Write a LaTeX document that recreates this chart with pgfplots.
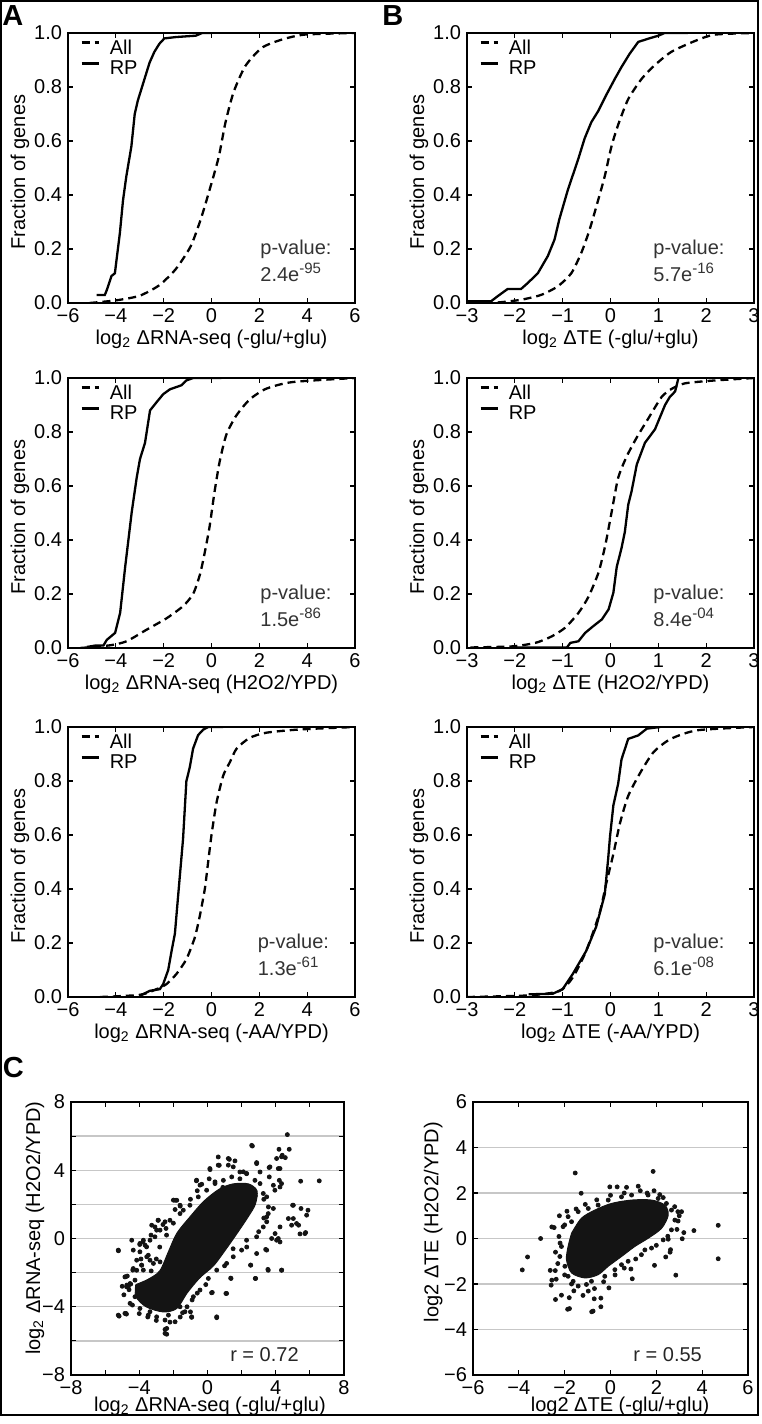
\documentclass[border=0pt]{standalone}
\usepackage{fontspec}
\setmainfont{Liberation Sans}
\usepackage{pgfplots}
\pgfplotsset{compat=1.18}

\newcommand{\fs}{\fontsize{10}{12}\selectfont}
\newcommand{\sexp}[1]{\raisebox{4.3pt}{\fontsize{7.5}{8}\selectfont #1}}
\tikzset{pv/.style={font=\fs, text=black!80, inner sep=0pt, anchor=base west}}
\pgfplotsset{
  base/.style={
    scale only axis, anchor=north west,
    tick align=inside, major tick length=2.5pt,
    axis line style={line width=0.7pt},
    every tick/.style={black, line width=0.6pt},
    tick label style={font=\fs, inner sep=0pt},
    label style={font=\fs, inner sep=0pt},
    xticklabel style={yshift=-2.5pt},
    yticklabel style={xshift=-2.8pt},
  },
  cdf/.style={
    base, width=143.5pt, height=135pt,
    ymin=0, ymax=1, ytick={0,0.2,0.4,0.6,0.8,1},
    yticklabels={0.0,0.2,0.4,0.6,0.8,1.0},
    ylabel={Fraction of genes},
    ylabel style={at={(axis description cs:-0.167,0.485)}, anchor=center},
    xlabel style={at={(axis description cs:0.5,-0.098)}, anchor=north},
    legend style={at={(axis description cs:0.042,0.976)}, anchor=north west,
      draw=none, fill=none, inner sep=0pt, row sep=1.8pt, column sep=5pt,
      font=\fs, nodes={inner sep=0pt}},
    legend cell align=left,
    legend image code/.code={\draw[#1] (0pt,3pt) -- (8.5pt,3pt);},
  },
  acol/.style={xmin=-6, xmax=6, xtick={-6,-4,-2,0,2,4,6},
    xticklabels={−6,−4,−2,0,2,4,6}},
  bcol/.style={xmin=-3, xmax=3, xtick={-3,-2,-1,0,1,2,3},
    xticklabels={−3,−2,−1,0,1,2,3}},
  allp/.style={black, line width=1.15pt, dash pattern=on 4pt off 2.5pt, smooth, tension=0.4},
  rpp/.style={black, line width=1.15pt},
  sc/.style={base, ymajorgrids, grid style={black!22, line width=0.7pt}},
  dots/.style={only marks, mark=*, mark size=1pt, black!92},
  blob/.style={fill=black!92, draw=black!92, line width=0.5pt, smooth, tension=0.5},
}
\newcommand{\pval}[2]{%
  \node[pv] at (axis description cs:#1,0.181) {p-value:};
  \node[pv] at (axis description cs:#1,0.078) {#2};}

\begin{document}
\begin{tikzpicture}
\useasboundingbox (0pt,0pt) rectangle (380.5pt,-712pt);

% ---------- A1 ----------
\begin{axis}[cdf, acol, at={(34pt,-16.5pt)},
  xlabel={log\textsubscript{2} ΔRNA-seq (-glu/+glu)}]
\addplot[allp] coordinates {(-5.1,0) (-3.97,0.01) (-3.0,0.027) (-2.18,0.066)
  (-1.49,0.126) (-0.87,0.21) (-0.45,0.31) (-0.11,0.41) (0.30,0.54) (0.58,0.667)
  (0.92,0.78) (1.41,0.877) (2.1,0.945) (2.92,0.975) (3.89,0.994) (6,1)};
\addlegendentry{All}
\addplot[rpp] coordinates {(-4.8,0.03) (-4.46,0.03) (-4.39,0.045) (-4.18,0.10)
  (-4.04,0.11) (-3.83,0.26) (-3.70,0.38) (-3.56,0.47) (-3.35,0.58) (-3.21,0.70)
  (-3.08,0.75) (-2.80,0.83) (-2.59,0.89) (-2.39,0.93) (-2.18,0.96) (-1.97,0.98)
  (-1.49,0.985) (-0.66,0.99) (-0.39,1.0) (0,1)};
\addlegendentry{RP}
\pval{0.669}{2.4e\sexp{-95}}
\end{axis}

% ---------- B1 ----------
\begin{axis}[cdf, bcol, at={(233.5pt,-16.5pt)},
  xlabel={log\textsubscript{2} ΔTE (-glu/+glu)}]
\addplot[allp] coordinates {(-2.9,0) (-2.36,0.002) (-1.87,0.012) (-1.45,0.03)
  (-1.10,0.062) (-0.82,0.11) (-0.61,0.186) (-0.44,0.27) (-0.26,0.38) (-0.12,0.47)
  (0.02,0.58) (0.16,0.66) (0.37,0.755) (0.65,0.83) (0.92,0.88) (1.27,0.93)
  (1.76,0.97) (2.18,0.994) (3,1)};
\addlegendentry{All}
\addplot[rpp] coordinates {(-3,0.006) (-2.50,0.006) (-2.36,0.025) (-2.15,0.052)
  (-1.87,0.052) (-1.73,0.074) (-1.52,0.11) (-1.31,0.174) (-1.17,0.235)
  (-1.07,0.31) (-0.89,0.42) (-0.68,0.53) (-0.54,0.61) (-0.40,0.67) (-0.26,0.71)
  (-0.09,0.77) (0.09,0.83) (0.23,0.874) (0.40,0.923) (0.58,0.967) (0.79,0.979)
  (1.0,0.99) (1.13,1.0) (1.62,1)};
\addlegendentry{RP}
\pval{0.648}{5.7e\sexp{-16}}
\end{axis}

% ---------- A2 ----------
\begin{axis}[cdf, acol, at={(34pt,-189pt)},
  xlabel={log\textsubscript{2} ΔRNA-seq (H2O2/YPD)}]
\addplot[allp] coordinates {(-5.49,0) (-4.24,0.01) (-3.55,0.025) (-2.71,0.068)
  (-1.88,0.11) (-1.19,0.155) (-0.77,0.2) (-0.49,0.27) (-0.29,0.35) (-0.08,0.45)
  (0.13,0.58) (0.34,0.69) (0.62,0.79) (1.03,0.86) (1.59,0.92) (2.28,0.96)
  (3.39,0.985) (6,1)};
\addlegendentry{All}
\addplot[rpp] coordinates {(-5.21,0.004) (-4.86,0.009) (-4.52,0.009) (-4.38,0.03)
  (-4.03,0.056) (-3.82,0.13) (-3.61,0.30) (-3.34,0.50) (-3.13,0.63) (-2.99,0.70)
  (-2.78,0.76) (-2.57,0.88) (-2.30,0.91) (-2.02,0.94) (-1.74,0.958) (-1.26,0.973)
  (-1.05,0.991) (-0.77,1.0) (0.41,1)};
\addlegendentry{RP}
\pval{0.669}{1.5e\sexp{-86}}
\end{axis}

% ---------- B2 ----------
\begin{axis}[cdf, bcol, at={(233.5pt,-189pt)},
  xlabel={log\textsubscript{2} ΔTE (H2O2/YPD)}]
\addplot[allp] coordinates {(-2.93,0.002) (-2.06,0.006) (-1.57,0.019) (-1.23,0.043)
  (-0.95,0.075) (-0.67,0.13) (-0.46,0.19) (-0.25,0.28) (-0.11,0.38) (0.02,0.50)
  (0.16,0.63) (0.34,0.71) (0.55,0.78) (0.79,0.85) (1.07,0.93) (1.28,0.96)
  (1.55,0.98) (2.11,0.99) (3,1)};
\addlegendentry{All}
\addplot[rpp] coordinates {(-2.06,0.002) (-0.91,0.002) (-0.84,0.019) (-0.67,0.025)
  (-0.53,0.056) (-0.36,0.081) (-0.18,0.106) (-0.04,0.143) (0.06,0.205) (0.13,0.30)
  (0.23,0.37) (0.30,0.43) (0.37,0.53) (0.44,0.58) (0.55,0.68) (0.72,0.76)
  (0.93,0.81) (1.14,0.90) (1.24,0.93) (1.35,0.95) (1.42,1.0)};
\addlegendentry{RP}
\pval{0.648}{8.4e\sexp{-04}}
\end{axis}

% ---------- A3 ----------
\begin{axis}[cdf, acol, at={(34pt,-363.5pt)},
  xlabel={log\textsubscript{2} ΔRNA-seq (-AA/YPD)}]
\addplot[allp] coordinates {(-4.67,0) (-3.0,0.008) (-2.30,0.029) (-1.88,0.048)
  (-1.47,0.085) (-1.05,0.14) (-0.70,0.22) (-0.49,0.30) (-0.28,0.40) (-0.14,0.50)
  (0.0,0.60) (0.21,0.72) (0.49,0.82) (0.77,0.87) (1.05,0.92) (1.60,0.96)
  (2.30,0.979) (3.70,0.991) (6,1)};
\addlegendentry{All}
\addplot[rpp] coordinates {(-3.0,0.004) (-2.58,0.023) (-2.16,0.029) (-2.02,0.048)
  (-1.81,0.10) (-1.67,0.17) (-1.53,0.235) (-1.40,0.37) (-1.19,0.585) (-1.05,0.80)
  (-0.91,0.85) (-0.77,0.92) (-0.56,0.97) (-0.35,0.99) (-0.14,1.0) (0.49,1)};
\addlegendentry{RP}
\pval{0.66}{1.3e\sexp{-61}}
\end{axis}

% ---------- B3 ----------
\begin{axis}[cdf, bcol, at={(233.5pt,-363.5pt)},
  xlabel={log\textsubscript{2} ΔTE (-AA/YPD)}]
\addplot[allp] coordinates {(-3,0) (-1.71,0.006) (-1.07,0.022) (-0.79,0.072)
  (-0.51,0.17) (-0.23,0.31) (-0.09,0.42) (0.06,0.53) (0.20,0.645) (0.37,0.745)
  (0.62,0.83) (0.90,0.907) (1.26,0.956) (1.82,0.988) (3,1)};
\addlegendentry{All}
\addplot[rpp] coordinates {(-1.71,0.01) (-1.21,0.012) (-1.0,0.029) (-0.79,0.085)
  (-0.51,0.17) (-0.30,0.26) (-0.12,0.38) (-0.05,0.51) (-0.01,0.595) (0.06,0.71)
  (0.16,0.79) (0.23,0.88) (0.37,0.956) (0.58,0.969) (0.76,0.994) (1.04,1)};
\addlegendentry{RP}
\pval{0.648}{6.1e\sexp{-08}}
\end{axis}

% ---------- C1 ----------
\begin{axis}[sc, at={(35.5pt,-551pt)}, width=136.5pt, height=136.5pt,
  xmin=-8, xmax=8, ymin=-8, ymax=8,
  xtick={-8,-6,-4,-2,0,2,4,6,8}, xticklabels={−8,,−4,,0,,4,,8},
  ytick={-8,-6,-4,-2,0,2,4,6,8}, yticklabels={−8,,−4,,0,,4,,8},
  xlabel={log\textsubscript{2} ΔRNA-seq (-glu/+glu)},
  ylabel={log\textsubscript{2} ΔRNA-seq (H2O2/YPD)},
  xlabel style={at={(axis description cs:0.509,-0.08)}, anchor=north},
  ylabel style={at={(axis description cs:-0.132,0.538)}, anchor=center}]
\addplot[blob] coordinates {(-4.2,-2.7) (-3.5,-2.4) (-2.8,-1.9) (-2.3,-0.8)
  (-1.8,0.3) (-1.0,1.3) (-0.2,2.2) (0.7,2.9) (1.5,3.2) (2.4,3.2) (2.9,2.8)
  (2.8,2.0) (2.4,1.3) (1.8,0.4) (1.1,-0.6) (0.35,-1.6) (-0.45,-2.3) (-1.2,-3.2)
  (-1.8,-4.1) (-2.6,-4.3) (-3.6,-4.0) (-4.2,-3.4) (-4.2,-2.7)};
\addplot[dots] coordinates {(4.68,6.09) (2.63,5.42) (4.19,5.23) (4.79,5.23)
  (4.38,4.88) (4.56,4.74) (0.63,4.78) (1.28,4.64) (1.61,4.55) (0.15,4.04)
  (0.69,4.29) (2.88,4.45) (3.61,4.16) (4.15,4.10) (4.21,3.41) (4.25,3.02)
  (5.46,3.36) (6.55,3.38) (-0.65,3.38) (-1.90,2.24) (-1.80,2.24) (-0.34,3.18)
  (3.08,3.90) (3.62,3.61) (3.86,3.12) (4.99,1.95) (4.74,1.17) (5.03,1.17)
  (5.48,1.76) (5.89,1.66) (5.34,0.78) (5.42,0.27) (5.75,0.35) (4.25,-0.20)
  (4.15,0) (3.96,0.29) (4.35,-1.85) (3.54,-1.81) (2.88,-0.88) (3.41,-0.64)
  (2.53,-1.56) (2.80,-2.34) (1.36,-2.32) (1.08,-3.22) (0.28,-3.16) (0.54,-4.64)
  (-0.93,-4.62) (-5.22,-0.72) (-4.44,-0.10) (-3.97,-0.35) (-3.78,-0.20)
  (-3.31,0.20) (-2.90,1.07) (-2.98,0.49) (-2.61,0.82) (-2.43,0.59) (-4.79,-2.24)
  (-4.73,-2.73) (-4.38,-1.85) (-3.86,-1.56) (-3.56,-1.07) (-4.50,-2.67)
  (-5.18,-4.55) (-4.75,-4.43) (-3.47,-4.49) (-2.98,-4.59) (-2.49,-4.78)
  (-2.49,-5.33) (-2.10,-3.80) (-1.61,-4.0) (-1.32,-4.29) (-2.39,-5.27)
  (-2.49,-5.56) (-4.78,-4.39) (0.54,-4.59) (2.59,5.46) (5.81,1.37) (5.71,0.29)
  (5.22,0.88) (-1.90,1.70) (-1.61,1.46) (-2.20,1.07) (-2.78,0.49) (-3.08,0.68)
  (-3.37,-0.10) (-3.66,-0.39) (-3.96,-0.78) (-3.47,-0.98) (-3.17,-1.46)
  (-2.78,-1.37) (-4.15,-1.27) (-3.76,-1.85) (-4.25,-2.44) (-4.64,-2.83)
  (-4.25,-3.41) (-4.54,-3.80) (-3.96,-4.10) (-3.37,-4.29) (-2.29,-4.49)
  (-1.90,-4.88) (-1.46,-4.35) (-0.83,-3.41) (-0.44,-3.02) (0.05,-2.34)
  (0.54,-1.85) (1.12,-1.46) (1.51,-1.07) (2.00,-0.68) (2.29,-0.10) (2.88,0.10)
  (3.27,0.68) (3.47,1.27) (3.57,1.85) (3.47,2.44) (3.08,3.22) (2.78,3.41)
  (2.29,3.80) (1.90,3.90) (1.42,3.61) (0.93,3.41) (0.44,3.22) (-0.05,2.83)
  (-0.54,2.44) (-1.03,1.95) (-1.42,1.66)
  (-4.6,-3.0) (-4.4,-3.9) (-4.0,-4.4) (-3.5,-4.6) (-3.0,-4.8) (-2.2,-4.9)
  (-1.6,-4.6) (-1.2,-4.0) (-0.9,-3.6) (-4.9,-3.3) (-5.0,-2.8) (-4.7,-2.2)
  (-3.3,-1.9) (-3.0,-1.2) (-2.8,-0.5) (-2.4,0.2) (-2.0,0.9) (-1.6,1.9)
  (-1.0,2.3) (-0.6,2.8) (0.1,3.5) (0.9,3.0) (1.9,3.5) (2.8,2.5) (3.3,2.3)
  (3.3,1.2) (3.0,0.4) (2.3,-0.5) (1.5,-0.6) (1.0,-1.6) (0.4,-1.2) (-0.1,-2.7)
  (-0.6,-3.2) (-0.5,-2.2) (-1.5,-3.2) (-1.0,-4.3) (-3.9,-1.2) (-3.4,-2.6)
  (-2.6,-2.2) (-4.0,-3.0)
  (-5.23,-0.68) (-4.35,-1.76) (-4.84,-2.25) (-4.74,-2.83) (-4.54,-2.64)
  (-5.23,-4.49) (-4.84,-4.39) (-2.39,-5.61) (-0.93,-4.59) (1.12,-3.22)
  (0.24,-3.18) (1.38,-2.34) (2.82,-2.34) (2.53,-1.56) (3.47,-0.68) (4.34,-1.86)
  (3.56,-1.86) (4.05,-0.10) (3.76,0) (4.25,0.68) (5.03,1.95) (4.93,0.78)
  (3.86,1.76) (3.56,1.46) (3.47,0.98) (3.27,2.64) (3.95,2.83) (4.34,3.22)
  (4.25,4.10) (1.22,4.69) (2.88,4.39) (3.66,4.20) (4.05,4.69) (4.34,4.79)
  (0.14,4.10) (0.63,4.30) (1.22,4.30) (1.51,4.20) (2.10,3.91) (2.29,3.81)
  (-0.64,3.42) (-0.44,3.13) (0.44,3.32) (-2.0,2.25) (-1.61,1.95) (-2.88,1.07)
  (-2.49,0.98) (-3.27,0.78) (-3.08,0.10) (-3.76,-0.10) (-3.96,-0.29)
  (-4.35,-0.68) (-3.57,-0.49) (-3.37,-1.27) (-3.86,-1.56) (-4.15,-1.86)};
\node[pv, text=black!85] at (axis description cs:0.582,0.048) {r = 0.72};
\end{axis}

% ---------- C2 ----------
\begin{axis}[sc, at={(236.5pt,-551pt)}, width=137.5pt, height=136.5pt,
  xmin=-6, xmax=6, ymin=-6, ymax=6,
  xtick={-6,-4,-2,0,2,4,6}, xticklabels={−6,−4,−2,0,2,4,6},
  ytick={-6,-4,-2,0,2,4,6}, yticklabels={−6,−4,−2,0,2,4,6},
  xlabel={log2 ΔTE (-glu/+glu)},
  ylabel={log2 ΔTE (H2O2/YPD)},
  xlabel style={at={(axis description cs:0.535,-0.08)}, anchor=north},
  ylabel style={at={(axis description cs:-0.145,0.56)}, anchor=center}]
\addplot[blob] coordinates {(-1.70,0.23) (-1.27,0.89) (-0.68,1.25) (0.04,1.54)
  (0.92,1.69) (1.79,1.69) (2.37,1.47) (2.52,1.03) (2.23,0.45) (1.64,0.01)
  (1.06,-0.35) (0.48,-0.79) (-0.10,-1.22) (-0.54,-1.59) (-1.12,-1.73)
  (-1.70,-1.51) (-1.92,-0.93) (-1.85,-0.35) (-1.70,0.23)};
\addplot[dots] coordinates {(1.86,2.95) (-1.54,2.88) (-1.28,1.99) (-0.03,2.27)
  (0.29,2.27) (1.21,2.30) (1.60,2.0) (2.15,1.93) (-2.23,1.00) (-2.56,0.51)
  (-2.46,0.48) (-3.05,0.0) (-3.62,-0.81) (-3.85,-1.38) (-2.63,-1.40)
  (-2.41,-1.41) (-2.59,-2.05) (-2.37,-1.79) (-2.56,-1.83) (-2.40,-2.68)
  (-2.14,-2.49) (-1.79,-3.08) (-1.80,-2.60) (-0.76,-3.19) (-0.42,-3.00)
  (-0.71,-2.65) (-0.42,-2.62) (-0.97,-2.31) (-0.07,-2.17) (0.48,-1.15)
  (0.89,-1.34) (0.95,-1.77) (1.92,-1.18) (2.85,-1.61) (2.41,-0.81) (2.62,-0.49)
  (2.52,-0.03) (3.13,-0.01) (3.20,0.26) (3.64,0.35) (4.70,0.58) (4.70,-0.89)
  (2.94,1.18) (3.10,1.18) (2.95,0.77) (-1.87,-3.11) (-0.82,-3.22)
  (-1.85,0.96) (-2.07,0.52) (-2.25,0.09) (-2.14,-0.35) (-2.21,-0.79)
  (-1.99,-1.22) (-1.85,-1.66) (-1.63,-1.88) (-1.41,-2.09) (-1.05,-2.02)
  (-0.83,-1.88) (-0.25,-1.66) (0.19,-1.37) (0.77,-1.00) (1.35,-0.71)
  (1.79,-0.42) (2.30,-0.06) (2.66,0.38) (2.81,0.81) (2.66,1.25) (2.44,1.54)
  (2.08,1.76) (1.64,1.91) (0.92,1.91) (0.48,1.83) (-0.10,1.69) (-0.54,1.47)
  (-0.97,1.32) (-1.41,1.18) (-1.70,0.74)
  (-2.0,0.6) (-2.2,-0.2) (-2.3,-1.1) (-2.0,-1.6) (-1.6,-2.3) (-1.2,-2.5)
  (-0.7,-2.2) (-0.3,-1.9) (0.2,-1.6) (0.6,-1.3) (1.1,-0.9) (1.5,-0.5)
  (2.0,-0.3) (2.5,0.1) (2.9,0.4) (3.0,1.0) (2.8,1.4) (2.3,1.8) (1.9,2.1)
  (1.3,2.1) (0.6,2.0) (0.0,1.9) (-0.6,1.7) (-1.1,1.5) (-1.5,1.3) (-1.9,1.2)
  (-2.4,-0.6) (-1.7,-2.0) (0.7,2.25) (2.6,-0.6)};
\node[pv, text=black!85] at (axis description cs:0.582,0.048) {r = 0.55};
\end{axis}

% panel letters and frame
\node[anchor=north west, inner sep=0pt, font=\fontsize{14.5}{15}\selectfont\bfseries] at (1pt,-2.5pt) {A};
\node[anchor=north west, inner sep=0pt, font=\fontsize{14.5}{15}\selectfont\bfseries] at (191pt,-2.5pt) {B};
\node[anchor=north west, inner sep=0pt, font=\fontsize{14.5}{15}\selectfont\bfseries] at (1.3pt,-528.5pt) {C};
\draw[line width=1.2pt] (0.6pt,-0.6pt) rectangle (379pt,-707.5pt);
\end{tikzpicture}
\end{document}
